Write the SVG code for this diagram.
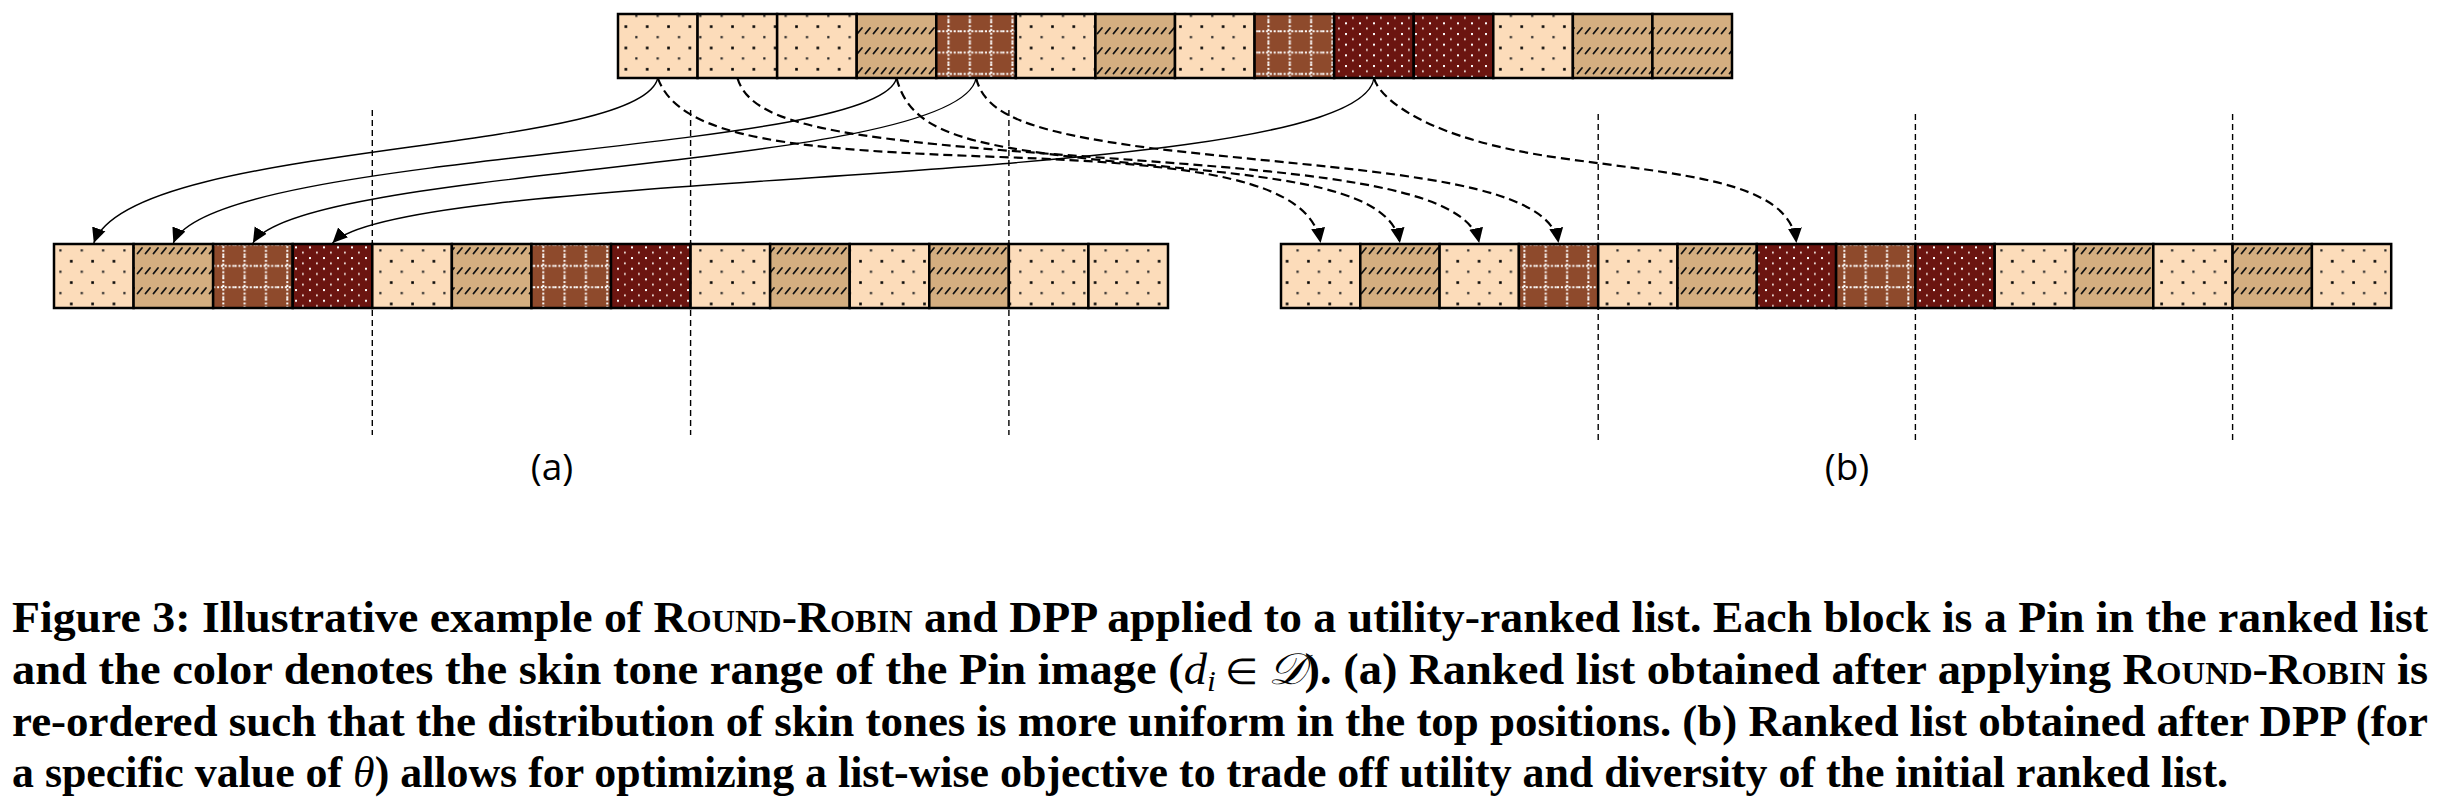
<svg xmlns="http://www.w3.org/2000/svg" width="2440" height="798" viewBox="0 0 2440 798">
<style>
.c{stroke:#000;stroke-width:2.5}
.L{fill:url(#pL)}.T{fill:url(#pT)}.B{fill:url(#pB)}.D{fill:url(#pD)}
.sol{fill:none;stroke:#000;stroke-width:1.4;marker-end:url(#ah)}
.das{fill:none;stroke:#000;stroke-width:2.2;stroke-dasharray:9 5;marker-end:url(#ah)}
.vd{stroke:#000;stroke-width:1.4;stroke-dasharray:6 4}
.lab{font-family:"Open Sans","Noto Sans",sans-serif;font-size:37px;fill:#000}
.cap{font-family:"Liberation Serif","Times New Roman",serif;font-weight:bold;font-size:44px;fill:#000}
.sc{font-variant:small-caps}
.m{font-style:italic;font-weight:normal}
</style>
<defs>
<pattern id="pL" patternUnits="userSpaceOnUse" width="21.33" height="21.33">
<rect width="21.33" height="21.33" fill="#FCDCBA"/>
<rect x="6" y="4" width="2.6" height="2.6" fill="#000"/>
<rect x="16.7" y="14.7" width="2.2" height="2.2" fill="#222"/>
</pattern>
<pattern id="pT" patternUnits="userSpaceOnUse" width="8" height="20">
<rect width="8" height="20" fill="#D4AE80"/>
<path d="M1.5,13.5 L6,8" stroke="#111" stroke-width="1.8" stroke-linecap="round"/>
</pattern>
<pattern id="pB" patternUnits="userSpaceOnUse" width="21.33" height="21.33">
<rect width="21.33" height="21.33" fill="#8E4A2C"/>
<path d="M0,10 H21.33 M10,0 V21.33" stroke="#fff" stroke-width="2" stroke-dasharray="2 1.8"/>
</pattern>
<pattern id="pD" patternUnits="userSpaceOnUse" width="14" height="10.67">
<rect width="14" height="10.67" fill="#6B1510"/>
<rect x="1" y="1" width="2" height="2" fill="#fff"/>
<rect x="8" y="6.33" width="1.8" height="1.8" fill="#f2e6e0"/>
</pattern>
<marker id="ah" markerUnits="userSpaceOnUse" viewBox="0 0 16 16" markerWidth="16" markerHeight="16" refX="15" refY="8" orient="auto">
<path d="M0,1 L15,8 L0,15 z" fill="#000"/>
</marker>
</defs>
<rect width="2440" height="798" fill="#fff"/>

<g id="guides">
<line class="vd" x1="372.3" y1="110" x2="372.3" y2="435"/>
<line class="vd" x1="690.6" y1="110" x2="690.6" y2="435"/>
<line class="vd" x1="1008.9" y1="110" x2="1008.9" y2="435"/>
<line class="vd" x1="1598.2" y1="114" x2="1598.2" y2="440"/>
<line class="vd" x1="1915.4" y1="114" x2="1915.4" y2="440"/>
<line class="vd" x1="2232.6" y1="114" x2="2232.6" y2="440"/>
</g>

<g id="list-top">
<g id="top-1"><rect class="c L" x="618" y="14" width="79.57" height="64"/></g>
<g id="top-2"><rect class="c L" x="697.57" y="14" width="79.57" height="64"/></g>
<g id="top-3"><rect class="c L" x="777.14" y="14" width="79.57" height="64"/></g>
<g id="top-4"><rect class="c T" x="856.71" y="14" width="79.57" height="64"/></g>
<g id="top-5"><rect class="c B" x="936.29" y="14" width="79.57" height="64"/></g>
<g id="top-6"><rect class="c L" x="1015.86" y="14" width="79.57" height="64"/></g>
<g id="top-7"><rect class="c T" x="1095.43" y="14" width="79.57" height="64"/></g>
<g id="top-8"><rect class="c L" x="1175" y="14" width="79.57" height="64"/></g>
<g id="top-9"><rect class="c B" x="1254.57" y="14" width="79.57" height="64"/></g>
<g id="top-10"><rect class="c D" x="1334.14" y="14" width="79.57" height="64"/></g>
<g id="top-11"><rect class="c D" x="1413.71" y="14" width="79.57" height="64"/></g>
<g id="top-12"><rect class="c L" x="1493.29" y="14" width="79.57" height="64"/></g>
<g id="top-13"><rect class="c T" x="1572.86" y="14" width="79.57" height="64"/></g>
<g id="top-14"><rect class="c T" x="1652.43" y="14" width="79.57" height="64"/></g>
</g>

<g id="list-a">
<g id="a-1"><rect class="c L" x="54" y="244" width="79.57" height="64"/></g>
<g id="a-2"><rect class="c T" x="133.57" y="244" width="79.57" height="64"/></g>
<g id="a-3"><rect class="c B" x="213.14" y="244" width="79.57" height="64"/></g>
<g id="a-4"><rect class="c D" x="292.71" y="244" width="79.57" height="64"/></g>
<g id="a-5"><rect class="c L" x="372.29" y="244" width="79.57" height="64"/></g>
<g id="a-6"><rect class="c T" x="451.86" y="244" width="79.57" height="64"/></g>
<g id="a-7"><rect class="c B" x="531.43" y="244" width="79.57" height="64"/></g>
<g id="a-8"><rect class="c D" x="611" y="244" width="79.57" height="64"/></g>
<g id="a-9"><rect class="c L" x="690.57" y="244" width="79.57" height="64"/></g>
<g id="a-10"><rect class="c T" x="770.14" y="244" width="79.57" height="64"/></g>
<g id="a-11"><rect class="c L" x="849.71" y="244" width="79.57" height="64"/></g>
<g id="a-12"><rect class="c T" x="929.29" y="244" width="79.57" height="64"/></g>
<g id="a-13"><rect class="c L" x="1008.86" y="244" width="79.57" height="64"/></g>
<g id="a-14"><rect class="c L" x="1088.43" y="244" width="79.57" height="64"/></g>
</g>

<g id="list-b">
<g id="b-1"><rect class="c L" x="1281" y="244" width="79.3" height="64"/></g>
<g id="b-2"><rect class="c T" x="1360.3" y="244" width="79.3" height="64"/></g>
<g id="b-3"><rect class="c L" x="1439.6" y="244" width="79.3" height="64"/></g>
<g id="b-4"><rect class="c B" x="1518.9" y="244" width="79.3" height="64"/></g>
<g id="b-5"><rect class="c L" x="1598.2" y="244" width="79.3" height="64"/></g>
<g id="b-6"><rect class="c T" x="1677.5" y="244" width="79.3" height="64"/></g>
<g id="b-7"><rect class="c D" x="1756.8" y="244" width="79.3" height="64"/></g>
<g id="b-8"><rect class="c B" x="1836.1" y="244" width="79.3" height="64"/></g>
<g id="b-9"><rect class="c D" x="1915.4" y="244" width="79.3" height="64"/></g>
<g id="b-10"><rect class="c L" x="1994.7" y="244" width="79.3" height="64"/></g>
<g id="b-11"><rect class="c T" x="2074" y="244" width="79.3" height="64"/></g>
<g id="b-12"><rect class="c L" x="2153.3" y="244" width="79.3" height="64"/></g>
<g id="b-13"><rect class="c T" x="2232.6" y="244" width="79.3" height="64"/></g>
<g id="b-14"><rect class="c L" x="2311.9" y="244" width="79.3" height="64"/></g>
</g>

<g id="connectors">
<path class="sol" d="M657.8,78 C640,155 130,140 93.8,243"/>
<path class="sol" d="M896.5,78 C880,155 210,150 173.4,243"/>
<path class="sol" d="M976.1,78 C960,170 300,165 252.9,243"/>
<path class="sol" d="M1373.9,78 C1360,190 410,165 332.5,243"/>
<path class="das" d="M657.8,78 C680,140 800,150 1000,157 C1200,164 1310,180 1320.6,243"/>
<path class="das" d="M896.5,78 C910,130 960,145 1100,160 C1250,176 1390,180 1399.9,243"/>
<path class="das" d="M737.4,78 C750,120 820,135 1000,150 C1250,170 1465,175 1479.2,243"/>
<path class="das" d="M976.1,78 C985,115 1030,132 1150,148 C1350,172 1548,175 1558.5,243"/>
<path class="das" d="M1373.9,78 C1380,100 1430,140 1560,158 C1680,175 1790,180 1796.4,243"/>
</g>

<g id="labels">
<text class="lab" x="552" y="480" text-anchor="middle">(a)</text>
<text class="lab" x="1847" y="480" text-anchor="middle">(b)</text>
</g>

<g id="caption">
<text class="cap" x="12" y="632" textLength="2416" lengthAdjust="spacingAndGlyphs">Figure 3: Illustrative example of <tspan class="sc">Round-Robin</tspan> and DPP applied to a utility-ranked list. Each block is a Pin in the ranked list</text>
<text class="cap" x="12" y="684" textLength="2416" lengthAdjust="spacingAndGlyphs">and the color denotes the skin tone range of the Pin image (<tspan class="m">d</tspan><tspan class="m" font-size="30" dy="7">i</tspan><tspan dy="-7" font-weight="normal" font-size="36"> ∈ </tspan><tspan class="m">𝒟</tspan>). (a) Ranked list obtained after applying <tspan class="sc">Round-Robin</tspan> is</text>
<text class="cap" x="12" y="736" textLength="2416" lengthAdjust="spacingAndGlyphs">re-ordered such that the distribution of skin tones is more uniform in the top positions. (b) Ranked list obtained after DPP (for</text>
<text class="cap" x="12" y="787" textLength="2216" lengthAdjust="spacingAndGlyphs">a specific value of <tspan class="m">θ</tspan>) allows for optimizing a list-wise objective to trade off utility and diversity of the initial ranked list.</text>
</g>
</svg>
